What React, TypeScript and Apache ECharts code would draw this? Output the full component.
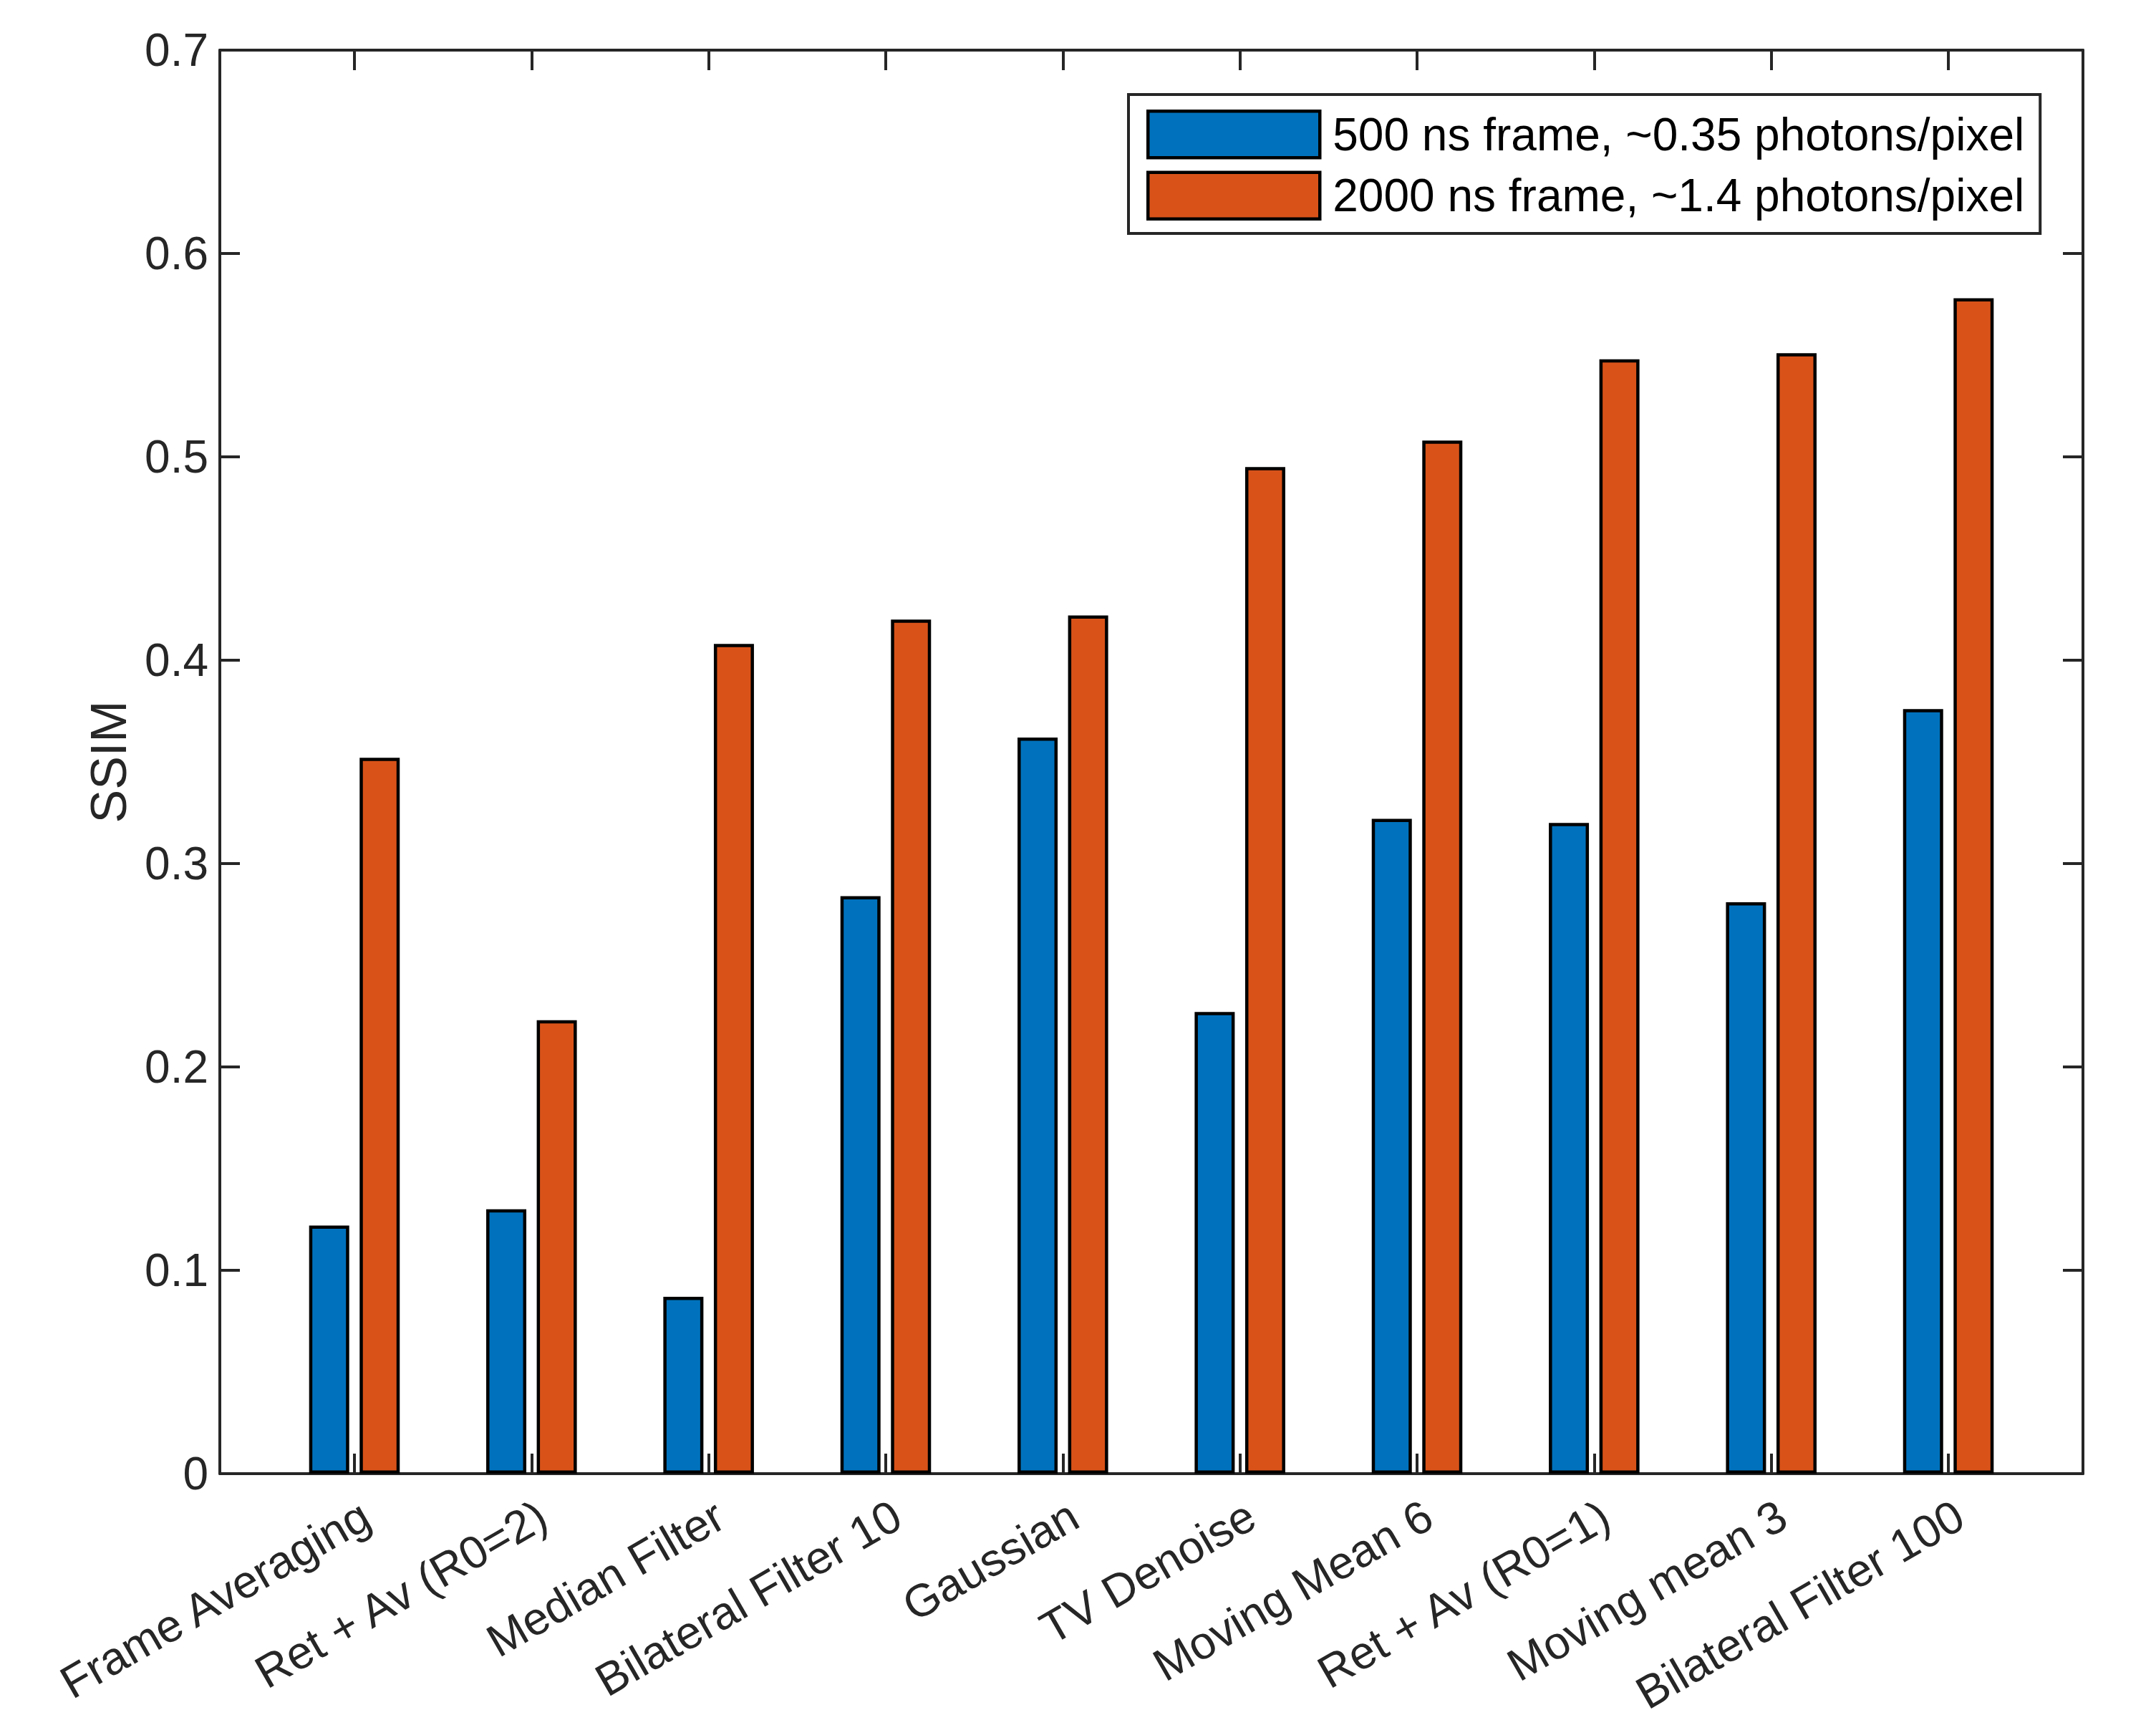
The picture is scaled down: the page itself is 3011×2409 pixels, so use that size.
import React, { useEffect, useRef } from "react";
import * as echarts from "echarts";

const categories = [
  "Frame Averaging",
  "Ret + Av (R0=2)",
  "Median Filter",
  "Bilateral Filter 10",
  "Gaussian",
  "TV Denoise",
  "Moving Mean 6",
  "Ret + Av (R0=1)",
  "Moving mean 3",
  "Bilateral Filter 100",
];
const seriesNames = [
  "500 ns frame, ~0.35 photons/pixel",
  "2000 ns frame, ~1.4 photons/pixel",
];
const values500 = [0.122, 0.13, 0.087, 0.284, 0.362, 0.227, 0.322, 0.32, 0.281, 0.376];
const values2000 = [0.352, 0.223, 0.408, 0.42, 0.422, 0.495, 0.508, 0.548, 0.551, 0.578];
const yMin = 0;
const yMax = 0.7;
const yStep = 0.1;

const FONT = "'Liberation Sans', Arial, Helvetica, sans-serif";
const AXIS = "#262626";

export default function App() {
  const ref = useRef<HTMLDivElement>(null);
  useEffect(() => {
    if (!ref.current) return;
    const chart = echarts.init(ref.current, undefined, { renderer: "svg" });
    const positions = categories.map((_, i) => i + 1);
    const xMin = 0.24;
    const xMax = 10.76;
    const axisLine = { show: true, onZero: false, lineStyle: { color: AXIS, width: 4 } };
    const tick = { show: true, inside: true, length: 28, lineStyle: { color: AXIS, width: 4 } };
    const option: any = {
      animation: false,
      backgroundColor: "#ffffff",
      textStyle: { fontFamily: FONT },
      grid: { left: 307, right: 102, top: 70, bottom: 351, outerBoundsMode: "none" },
      legend: {
        orient: "vertical",
        left: 1576,
        top: 132,
        padding: [21, 22, 18, 25],
        itemWidth: 240,
        itemHeight: 65,
        itemGap: 16,
        icon: "rect",
        backgroundColor: "#ffffff",
        borderColor: AXIS,
        borderWidth: 4,
        selectedMode: false,
        textStyle: {
          fontSize: 64,
          lineHeight: 65,
          color: "#000000",
          fontFamily: FONT,
          padding: [0, 0, 0, 13],
        },
        itemStyle: { borderColor: "#000000", borderWidth: 4.5 },
        data: seriesNames,
      },
      xAxis: [
        {
          type: "value",
          position: "bottom",
          min: xMin,
          max: xMax,
          axisLine,
          axisTick: { ...tick, customValues: positions },
          axisLabel: {
            show: true,
            customValues: positions,
            rotate: 30,
            fontSize: 64,
            color: AXIS,
            fontFamily: FONT,
            margin: 26,
            align: "right",
            verticalAlign: "top",
            formatter: (v: number) => categories[Math.round(v) - 1] ?? "",
          },
          splitLine: { show: false },
        },
        {
          type: "value",
          position: "top",
          min: xMin,
          max: xMax,
          axisLine,
          axisTick: { ...tick, customValues: positions },
          axisLabel: { show: false },
          splitLine: { show: false },
        },
      ],
      yAxis: [
        {
          type: "value",
          position: "left",
          min: yMin,
          max: yMax,
          interval: yStep,
          name: "SSIM",
          nameLocation: "middle",
          nameGap: 120,
          nameTextStyle: { fontSize: 70, color: AXIS, fontFamily: FONT },
          axisLine,
          axisTick: tick,
          axisLabel: { fontSize: 64, color: AXIS, fontFamily: FONT, margin: 16 },
          splitLine: { show: false },
        },
        {
          type: "value",
          position: "right",
          min: yMin,
          max: yMax,
          interval: yStep,
          axisLine,
          axisTick: tick,
          axisLabel: { show: false },
          splitLine: { show: false },
        },
      ],
      series: [
        {
          type: "bar",
          name: seriesNames[0],
          xAxisIndex: 0,
          yAxisIndex: 0,
          data: positions.map((x, i) => [x, values500[i]]),
          barWidth: 56,
          barGap: "26%",
          itemStyle: { color: "#0072BD", borderColor: "#000000", borderWidth: 4.5 },
        },
        {
          type: "bar",
          name: seriesNames[1],
          xAxisIndex: 0,
          yAxisIndex: 0,
          data: positions.map((x, i) => [x, values2000[i]]),
          barWidth: 56,
          barGap: "26%",
          itemStyle: { color: "#D95319", borderColor: "#000000", borderWidth: 4.5 },
        },
      ],
    };
    chart.setOption(option);
    return () => chart.dispose();
  }, []);
  return (
    <div
      ref={ref}
      style={{ position: "absolute", left: 0, top: 0, width: 3011, height: 2409, background: "#fff" }}
    />
  );
}
